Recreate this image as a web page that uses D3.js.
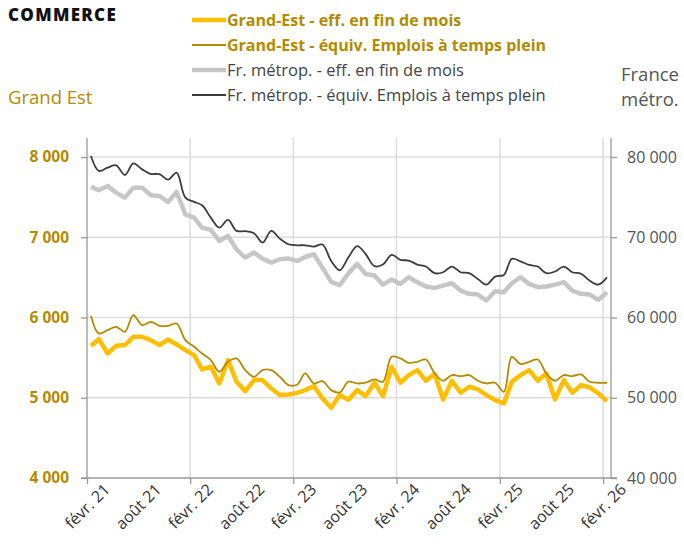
<html>
<head>
<meta charset="utf-8">
<title>Commerce</title>
<script src="https://d3js.org/d3.v7.min.js"></script>
<style>
  body { margin: 0; background: #fff; }
  text { font-family: "Open Sans", "Noto Sans", sans-serif; }
</style>
</head>
<body>
<svg id="chart"></svg>
<script>
// monthly, févr. 2021 -> févr. 2026
const start = new Date(2021, 1, 15);
const geEff = [5647,5730,5552,5647,5656,5759,5759,5718,5656,5726,5664,5593,5531,5353,5386,5178,5469,5199,5083,5220,
  5220,5116,5033,5041,5062,5095,5145,4992,4875,5033,4975,5095,5021,5187,5021,5386,5187,5282,5344,5212,
  5295,4979,5212,5062,5137,5104,5033,4971,4929,5199,5282,5344,5212,5303,4979,5220,5062,5158,5129,5054,4958];
const geEtp = [6020,5800,5842,5884,5822,6030,5905,5946,5896,5896,5925,5718,5635,5552,5470,5324,5448,5490,5344,5261,
  5344,5344,5261,5158,5166,5303,5178,5207,5095,5066,5200,5178,5187,5228,5199,5510,5490,5436,5448,5477,
  5303,5212,5282,5270,5282,5212,5178,5187,5075,5510,5419,5448,5477,5303,5212,5282,5270,5290,5199,5187,5187];
const frEff = [76300,75850,76400,75560,74940,76180,76180,75230,75140,74400,75640,72860,72450,71200,70910,69540,70160,68500,67470,68090,
  67340,66840,67260,67340,67050,67550,67880,66220,64440,64020,65500,66680,65430,65230,64100,64730,64190,65020,64400,63860,
  63690,63980,64270,63360,62950,62860,62120,63280,63150,64270,65020,64190,63780,63860,64100,64400,63360,62950,62860,62200,63150];
const frEtp = [80120,78260,78670,78960,77760,79210,78460,77880,77880,77180,78050,74940,74400,73980,72450,71200,72160,70790,70750,70500,
  69340,70790,69830,69130,69000,69000,68840,69090,67050,65890,67500,68900,67900,66400,66600,67800,67180,67100,66600,66350,
  65520,65640,66350,65640,65520,64800,64100,65100,65300,67300,67000,66550,66350,65520,65730,66350,65640,65450,64600,64100,65000];
const dates = geEff.map((d, i) => d3.timeMonth.offset(start, i));

const leftTicks = [4000, 5000, 6000, 7000, 8000];
const rightTicks = [40000, 50000, 60000, 70000, 80000];
const tickDates = d3.range(0, 61, 6).map(i => d3.timeMonth.offset(new Date(2021, 1, 1), i));
const monthNames = ["janv.", "févr.", "mars", "avr.", "mai", "juin", "juil.", "août", "sept.", "oct.", "nov.", "déc."];

const series = [
  {name: "Fr. métrop. - eff. en fin de mois", values: frEff, axis: "r", color: "#c6c6c6", w: 4.5, smooth: false},
  {name: "Fr. métrop.  - équiv. Emplois à temps plein", values: frEtp, axis: "r", color: "#3c3c3c", w: 1.8, smooth: true},
  {name: "Grand-Est - eff. en fin de mois", values: geEff, axis: "l", color: "#ffbf00", w: 4.5, smooth: false},
  {name: "Grand-Est - équiv. Emplois à temps plein", values: geEtp, axis: "l", color: "#b38b00", w: 1.8, smooth: true}
];
const legendOrder = [2, 3, 0, 1];

const width = 684, height = 545;
const gold = "#b38b00", grey = "#555";
const svg = d3.select("#chart").attr("width", width).attr("height", height);

const x = d3.scaleTime()
  .domain([new Date(2021, 1, 1), new Date(2026, 2, 1)])
  .range([87, 611]);
const yL = d3.scaleLinear().domain([4000, 8000]).range([478, 157]);
const yR = d3.scaleLinear().domain([40000, 80000]).range([478, 157]);
const plotTop = 138;
const fmt = d => d3.format(",")(d).replace(",", " ");

// grid
svg.append("g").selectAll("line").data(leftTicks.slice(1)).join("line")
  .attr("x1", 87).attr("x2", 611)
  .attr("y1", d => yL(d)).attr("y2", d => yL(d))
  .attr("stroke", "#dcdcdc").attr("stroke-width", 1.5);
svg.append("g").selectAll("line").data(tickDates.filter(d => d.getMonth() === 1).slice(1)).join("line")
  .attr("x1", d => x(d)).attr("x2", d => x(d))
  .attr("y1", plotTop).attr("y2", 478)
  .attr("stroke", "#dcdcdc").attr("stroke-width", 1.5);

// axes
const axL = svg.append("g").attr("transform", "translate(87,0)")
  .call(d3.axisLeft(yL).tickValues(leftTicks).tickSize(6).tickPadding(12).tickFormat(fmt));
axL.select(".domain").attr("d", `M0,${plotTop}V478`);
axL.selectAll("text").attr("fill", gold).attr("font-size", 15.5).attr("font-weight", 700);

const axR = svg.append("g").attr("transform", "translate(611,0)")
  .call(d3.axisRight(yR).tickValues(rightTicks).tickSize(6).tickPadding(10).tickFormat(fmt));
axR.select(".domain").attr("d", `M0,${plotTop}V478`);
axR.selectAll("text").attr("fill", grey).attr("font-size", 16);

const axB = svg.append("g").attr("transform", "translate(0,478)")
  .call(d3.axisBottom(x).tickValues(tickDates).tickSize(6)
    .tickFormat(d => monthNames[d.getMonth()] + " " + String(d.getFullYear()).slice(2)));
axB.select(".domain").attr("d", "M81,0H617");
axB.selectAll(".tick line").attr("opacity", d => d.getMonth() === 1 ? 1 : 0);
axB.selectAll("text")
  .attr("font-size", 16).attr("fill", "#333")
  .attr("text-anchor", "end")
  .attr("transform", "translate(7,-4) rotate(-45)")
  .attr("dy", "0.9em").attr("dx", "0");
svg.selectAll(".domain, .tick line").attr("stroke", "#999").attr("stroke-width", 1.3);

// lines
series.forEach(s => {
  const ys = s.axis === "l" ? yL : yR;
  svg.append("path")
    .datum(s.values)
    .attr("fill", "none")
    .attr("stroke", s.color)
    .attr("stroke-width", s.w)
    .attr("stroke-linejoin", "round")
    .attr("d", d3.line()
      .curve(s.smooth ? d3.curveCatmullRom : d3.curveLinear)
      .x((d, i) => x(dates[i])).y(d => ys(d)));
});

// titles
svg.append("text").attr("x", 8).attr("y", 21).text("COMMERCE")
  .attr("font-size", 17).attr("font-weight", 800).attr("letter-spacing", 1.3).attr("fill", "#111");
svg.append("text").attr("x", 8).attr("y", 104).text("Grand Est")
  .attr("font-size", 18.5).attr("fill", gold);
svg.append("text").attr("x", 621).attr("y", 81).text("France")
  .attr("font-size", 18.5).attr("fill", grey);
svg.append("text").attr("x", 621).attr("y", 106).text("métro.")
  .attr("font-size", 18.5).attr("fill", grey);

// legend
const lg = svg.append("g").selectAll("g").data(legendOrder).join("g")
  .attr("transform", (d, i) => `translate(192,${20 + i * 25})`);
lg.append("line").attr("x1", 0).attr("x2", 34)
  .attr("stroke", d => series[d].color).attr("stroke-width", d => series[d].w);
lg.append("text").attr("x", 35).attr("y", 6)
  .text(d => series[d].name)
  .attr("font-size", d => series[d].axis === "l" ? 16 : 16.5)
  .attr("font-weight", d => series[d].axis === "l" ? 700 : 400)
  .attr("fill", d => series[d].axis === "l" ? gold : "#444");
</script>
</body>
</html>
